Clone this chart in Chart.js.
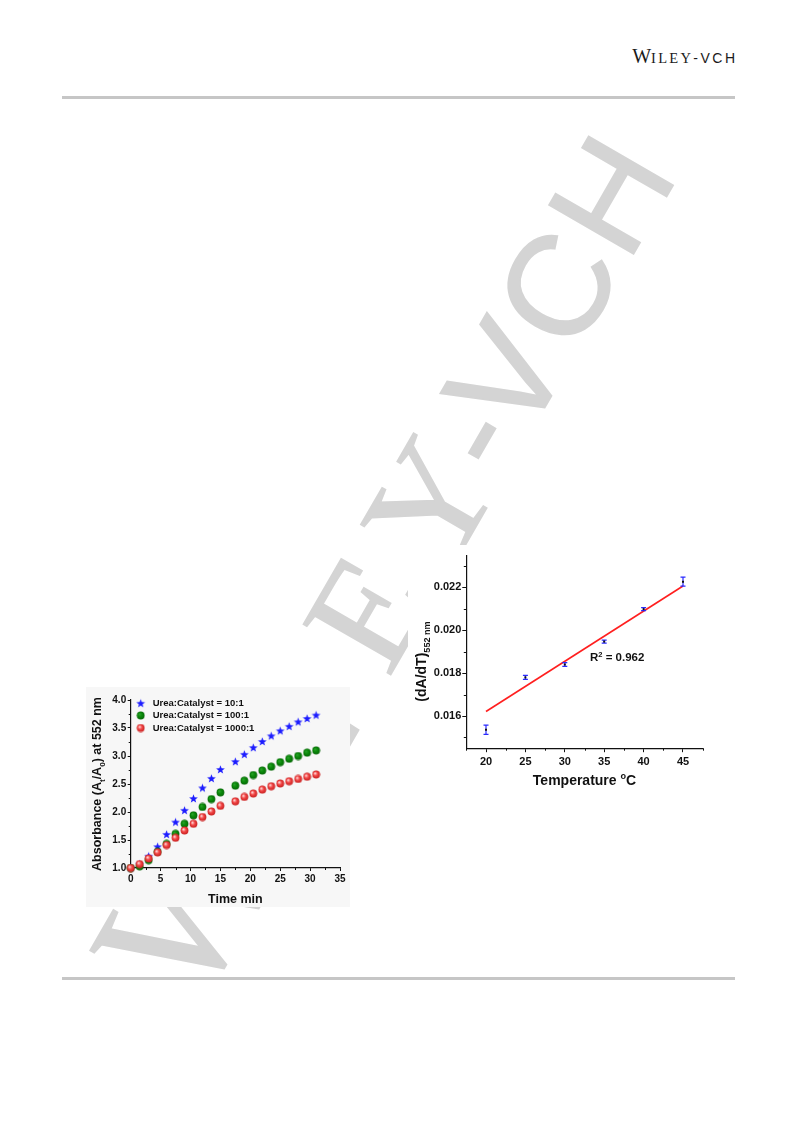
<!DOCTYPE html>
<html>
<head>
<meta charset="utf-8">
<title>Absorbance kinetics</title>
<script src="https://cdn.jsdelivr.net/npm/chart.js@4.4.1/dist/chart.umd.min.js"></script>
<style>
  html, body { margin: 0; padding: 0; background: #fff; }
  body { width: 793px; height: 1121px; position: relative; overflow: hidden; }
  #wm { position: absolute; left: 0; top: 0; }
  .rule { position: absolute; left: 62px; width: 673px; height: 3px; background: #c6c6c6; }
  #logo { position: absolute; right: 55.5px; top: 44.6px; line-height: 20px; font: 20px "Liberation Serif", serif; color: #1a1a1a; white-space: nowrap; }
  #logo .sc { font-size: 14.5px; letter-spacing: 2.3px; }
  #logo .vch { font: 14px "Liberation Sans", Arial, sans-serif; letter-spacing: 2.5px; }
  #box1 { position: absolute; left: 86px; top: 687px; width: 264px; height: 220px; background: #f7f7f7; }
  #box2 { position: absolute; left: 408px; top: 545px; width: 310px; height: 250px; background: #fff; }
  canvas { display: block; }
</style>
</head>
<body>

<!-- filigrane gris en diagonale -->
<svg id="wm" width="793" height="1121">
  <g transform="translate(637 248) rotate(-60)" fill="#d4d4d4" stroke="#d4d4d4" stroke-width="1.5">
    <text x="-882" y="0" font-family="Liberation Serif" font-size="187">W</text>
    <text x="-700" y="0" font-family="Liberation Serif" font-size="154">I</text>
    <text x="-640" y="0" font-family="Liberation Serif" font-size="154">L</text>
    <text x="-497" y="0" font-family="Liberation Serif" font-size="154">E</text>
    <text x="-323.7" y="0" text-anchor="middle" font-family="Liberation Serif" font-size="154">Y</text>
    <text x="-268" y="0" font-family="Liberation Sans" font-size="142">-</text>
    <text x="-177.5" y="0" text-anchor="middle" font-family="Liberation Sans" font-size="142">V</text>
    <text x="-125.6" y="0" font-family="Liberation Sans" font-size="142">C</text>
    <text x="-18.5" y="0" font-family="Liberation Sans" font-size="142">H</text>
  </g>
</svg>

<div id="logo">W<span class="sc">ILEY</span><span class="vch">-VCH</span></div>
<div class="rule" style="top:96px"></div>
<div class="rule" style="top:977px"></div>

<div id="box1"><canvas id="c1" width="264" height="220"></canvas></div>
<div id="box2"><canvas id="c2" width="310" height="250"></canvas></div>

<script>
const FONT = "'Liberation Sans', Arial, sans-serif";

// --- figure de gauche : absorbance en fonction du temps ---
const timeMin = [0, 1.5, 3, 4.5, 6, 7.5, 9, 10.5, 12, 13.5, 15, 17.5, 19, 20.5, 22, 23.5, 25, 26.5, 28, 29.5, 31];
const ratio10 = [1.00, 1.07, 1.21, 1.38, 1.60, 1.82, 2.03, 2.24, 2.43, 2.60, 2.76, 2.90, 3.03, 3.15, 3.26, 3.36, 3.45, 3.53, 3.61, 3.67, 3.73];
const ratio100 = [1.00, 1.03, 1.14, 1.29, 1.43, 1.61, 1.79, 1.94, 2.09, 2.23, 2.35, 2.47, 2.56, 2.66, 2.74, 2.81, 2.89, 2.95, 3.00, 3.06, 3.10];
const ratio1000 = [1.00, 1.07, 1.17, 1.28, 1.41, 1.54, 1.67, 1.79, 1.91, 2.01, 2.11, 2.19, 2.27, 2.33, 2.40, 2.46, 2.51, 2.55, 2.59, 2.63, 2.67];
const seriesNames = ['Urea:Catalyst = 10:1', 'Urea:Catalyst = 100:1', 'Urea:Catalyst = 1000:1'];
const timeTicks = [0, 5, 10, 15, 20, 25, 30, 35];
const absTicks = [1.0, 1.5, 2.0, 2.5, 3.0, 3.5, 4.0];

// --- figure de droite : vitesse en fonction de la température ---
const tempC = [20, 25, 30, 35, 40, 45];
const rate = [0.01536, 0.01780, 0.01840, 0.01947, 0.02098, 0.02226];
const rateErr = [0.00022, 0.00009, 0.00009, 0.00007, 0.00007, 0.00021];
const fitTemp = [20, 45];
const fitRate = [0.01621, 0.02206];
const tempTicks = [20, 25, 30, 35, 40, 45];
const rateTicks = [0.016, 0.018, 0.020, 0.022];
const r2Text = '0.962';

// petites graduations au milieu des grandes
const mid = arr => arr.slice(1).map((v, i) => (arr[i] + v) / 2);

// marqueurs dessinés à part (étoile pleine, billes)
function starMarker(color) {
  const c = document.createElement('canvas');
  c.width = c.height = 11;
  const g = c.getContext('2d');
  g.translate(5.5, 5.8);
  g.beginPath();
  for (let i = 0; i < 10; i++) {
    const r = i % 2 ? 1.9 : 4.6;
    const a = -Math.PI / 2 + i * Math.PI / 5;
    g.lineTo(r * Math.cos(a), r * Math.sin(a));
  }
  g.closePath();
  g.fillStyle = color;
  g.fill();
  return c;
}
function ballMarker(light, base, edge) {
  const c = document.createElement('canvas');
  c.width = c.height = 9;
  const g = c.getContext('2d');
  const gr = g.createRadialGradient(3.3, 3.2, 0.3, 4.5, 4.5, 4.2);
  gr.addColorStop(0, light);
  gr.addColorStop(0.45, base);
  gr.addColorStop(1, edge);
  g.fillStyle = gr;
  g.beginPath();
  g.arc(4.5, 4.5, 3.9, 0, Math.PI * 2);
  g.fill();
  return c;
}
const markers = [
  starMarker('#1c1cff'),
  ballMarker('#2aa02a', '#0a8a0a', '#066406'),
  ballMarker('#ffd8d8', '#f24646', '#c41c1c')
];

// texte avec indices / exposants
function richText(ctx, parts, x, y, size, vertical, align) {
  ctx.save();
  ctx.translate(x, y);
  if (vertical) ctx.rotate(-Math.PI / 2);
  ctx.fillStyle = '#111';
  ctx.textBaseline = 'alphabetic';
  const fontFor = p => `bold ${p.sub || p.sup ? size * 0.65 : size}px ${FONT}`;
  let w = 0;
  parts.forEach(p => { ctx.font = fontFor(p); w += ctx.measureText(p.t).width; });
  let cx = align === 'left' ? 0 : -w / 2;
  parts.forEach(p => {
    ctx.font = fontFor(p);
    const dy = p.sub ? size * 0.3 : p.sup ? -size * 0.42 : 0;
    ctx.fillText(p.t, cx, dy);
    cx += ctx.measureText(p.t).width;
  });
  ctx.restore();
}

function minorTicks(chart, xs, ys, len) {
  const { ctx, chartArea: a, scales: { x, y } } = chart;
  ctx.save();
  ctx.strokeStyle = '#111';
  ctx.lineWidth = 1;
  ctx.beginPath();
  xs.forEach(v => {
    const p = Math.round(x.getPixelForValue(v)) + 0.5;
    ctx.moveTo(p, a.bottom); ctx.lineTo(p, a.bottom + len);
  });
  ys.forEach(v => {
    const p = Math.round(y.getPixelForValue(v)) + 0.5;
    ctx.moveTo(a.left - len, p); ctx.lineTo(a.left, p);
  });
  ctx.stroke();
  ctx.restore();
}

function axis(min, max, ticks, size, tickLen, pad, fmt, fit) {
  return {
    type: 'linear', min, max,
    afterBuildTicks: s => { s.ticks = ticks.map(v => ({ value: v })); },
    afterFit: fit,
    grid: { drawOnChartArea: false, drawTicks: true, tickLength: tickLen, tickColor: '#111', tickWidth: 1 },
    border: { display: true, color: '#111', width: 1.2 },
    ticks: { font: { family: FONT, size, weight: 'bold' }, color: '#111', padding: pad, autoSkip: false, maxRotation: 0, callback: fmt }
  };
}

new Chart(document.getElementById('c1'), {
  type: 'scatter',
  data: {
    datasets: [ratio10, ratio100, ratio1000].map((vals, i) => ({
      label: seriesNames[i],
      data: timeMin.map((t, k) => ({ x: t, y: vals[k] })),
      pointStyle: markers[i],
      pointRadius: 4,
      order: 3 - i, // la série rouge passe devant
      clip: false
    }))
  },
  options: {
    responsive: false,
    animation: false,
    devicePixelRatio: 1,
    layout: { padding: { top: 13, right: 10, left: 0, bottom: 0 } },
    plugins: { legend: { display: false }, tooltip: { enabled: false } },
    scales: {
      x: axis(0, 35, timeTicks, 10, 3, 2, v => v, s => { s.height = 39; }),
      y: axis(1, 4, absTicks, 10, 3, 1.5, v => v.toFixed(1), s => { s.width = 44.7; })
    }
  },
  plugins: [{
    id: 'decor1',
    afterDraw(chart) {
      const { ctx, chartArea: a } = chart;
      minorTicks(chart, mid(timeTicks), mid(absTicks), 2);
      ctx.save();
      ctx.font = `bold 9.5px ${FONT}`;
      ctx.fillStyle = '#111';
      ctx.textBaseline = 'middle';
      [3.3, 15.5, 28].forEach((dy, i) => {
        const m = markers[i];
        ctx.drawImage(m, a.left + 10 - m.width / 2, a.top + dy - m.height / 2);
        ctx.fillText(seriesNames[i], a.left + 22, a.top + dy);
      });
      ctx.restore();
      richText(ctx, [{ t: 'Absorbance (A' }, { t: 't', sub: true }, { t: '/A' }, { t: '0', sub: true }, { t: ') at 552 nm' }],
        15, (a.top + a.bottom) / 2, 12.5, true);
      richText(ctx, [{ t: 'Time min' }], (a.left + a.right) / 2, 216.3, 12.5, false);
    }
  }]
});

new Chart(document.getElementById('c2'), {
  type: 'scatter',
  data: {
    datasets: [
      {
        label: 'dA/dT',
        data: tempC.map((t, k) => ({ x: t, y: rate[k] })),
        pointStyle: 'rect',
        pointRadius: 1.4,
        backgroundColor: '#111',
        borderColor: '#111',
        borderWidth: 0,
        clip: false
      },
      {
        label: 'fit',
        data: fitTemp.map((t, k) => ({ x: t, y: fitRate[k] })),
        showLine: true,
        borderColor: '#ff1f1f',
        borderWidth: 1.6,
        pointRadius: 0,
        clip: false
      }
    ]
  },
  options: {
    responsive: false,
    animation: false,
    devicePixelRatio: 1,
    layout: { padding: { top: 10.1, right: 15.3, left: 0, bottom: 0 } },
    plugins: { legend: { display: false }, tooltip: { enabled: false } },
    scales: {
      x: axis(17.5, 47.5, tempTicks, 11, 4, 3, v => v, s => { s.height = 46.8; }),
      y: axis(0.0145, 0.0235, rateTicks, 11, 4, 1, v => v.toFixed(3), s => { s.width = 58.3; })
    }
  },
  plugins: [{
    id: 'decor2',
    afterDatasetDraw(chart, args) {
      if (args.index !== 1) return; // barres d'erreur après la droite, avant les points
      const { ctx, scales: { x, y } } = chart;
      ctx.save();
      ctx.strokeStyle = '#2a2aff';
      ctx.lineWidth = 1.2;
      ctx.beginPath();
      tempC.forEach((t, k) => {
        const px = x.getPixelForValue(t);
        const lo = y.getPixelForValue(rate[k] - rateErr[k]);
        const hi = y.getPixelForValue(rate[k] + rateErr[k]);
        ctx.moveTo(px, lo); ctx.lineTo(px, hi);
        ctx.moveTo(px - 2.5, lo); ctx.lineTo(px + 2.5, lo);
        ctx.moveTo(px - 2.5, hi); ctx.lineTo(px + 2.5, hi);
      });
      ctx.stroke();
      ctx.restore();
    },
    afterDraw(chart) {
      const { ctx, chartArea: a, scales: { x, y } } = chart;
      minorTicks(chart, [17.5, ...mid(tempTicks), 47.5], [0.015, ...mid(rateTicks), 0.023], 2.5);
      richText(ctx, [{ t: '(dA/dT)' }, { t: '552 nm', sub: true }], 18, 116.5, 14, true);
      richText(ctx, [{ t: 'Temperature ' }, { t: 'o', sup: true }, { t: 'C' }], (a.left + a.right) / 2, 240, 14, false);
      richText(ctx, [{ t: 'R' }, { t: '2', sup: true }, { t: ' = ' + r2Text }],
        x.getPixelForValue(33.2), y.getPixelForValue(0.01873) + 4, 11.5, false, 'left');
    }
  }]
});
</script>
</body>
</html>
